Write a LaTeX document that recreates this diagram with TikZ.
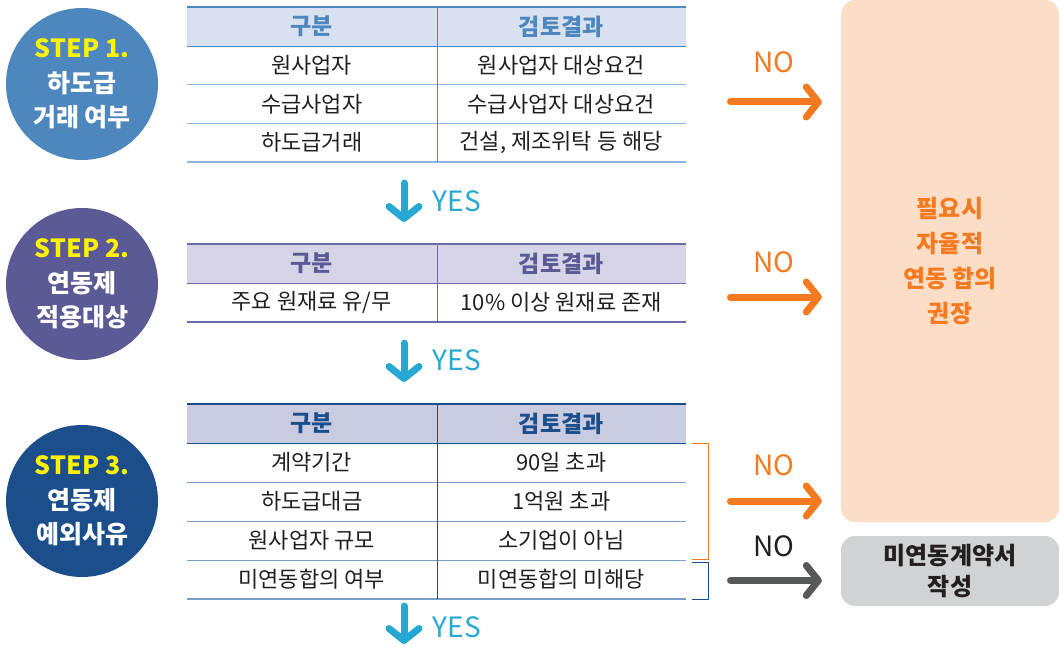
\documentclass[tikz,border=0pt]{standalone}
\usepackage{fontspec}
\setmainfont{Noto Sans CJK KR}
\usetikzlibrary{arrows.meta}

\definecolor{stepone}{HTML}{4E86BE}
\definecolor{steptwo}{HTML}{5B5A95}
\definecolor{stepthree}{HTML}{1B4E8B}
\definecolor{stepyel}{HTML}{FFF200}
\definecolor{headone}{HTML}{D7E1EF}
\definecolor{linetwo}{HTML}{6B6AAB}
\definecolor{headtwo}{HTML}{D6D4E6}
\definecolor{headthree}{HTML}{C9CCE1}
\definecolor{rowone}{HTML}{8DB4E2}
\definecolor{rowthree}{HTML}{7B9CC9}
\definecolor{txtdark}{HTML}{231F20}
\definecolor{orng}{HTML}{F37A21}
\definecolor{orngbox}{HTML}{FCDEC6}
\definecolor{graybox}{HTML}{D1D2D4}
\definecolor{grayarr}{HTML}{58595B}
\definecolor{cyanb}{HTML}{27A8D3}

\newcommand\steplabel[1]{{\fontsize{25}{28}\selectfont\color{stepyel}#1}}

\begin{document}
\begin{tikzpicture}[x=1pt, y=-1pt,
    stepcirc/.style={circle, minimum size=152pt, inner sep=0pt, text=white, align=center, font=\fontsize{25}{34}\selectfont\bfseries},
    cell/.style={minimum width=249.5pt, minimum height=38.75pt, inner sep=0pt, text=txtdark, font=\fontsize{22}{24}\selectfont},
    head/.style={cell, font=\fontsize{23}{24}\selectfont\bfseries},
    noarrow/.style={draw=orng, line width=7pt, line cap=round, -{Straight Barb[round, length=12pt, width=30pt]}, shorten >=19pt},
    yesarrow/.style={draw=cyanb, line width=7pt, line cap=round, -{Straight Barb[round, length=12pt, width=30pt]}},
    nolabel/.style={font=\fontsize{28}{30}\selectfont, text=orng},
    yeslabel/.style={font=\fontsize{28}{30}\selectfont, text=cyanb}]

    \useasboundingbox (0,0) rectangle (1059,647);

    % step circles
    \node[stepcirc, fill=stepone] (s1) at (82,84) {\steplabel{STEP 1.}\\[1pt]하도급\\거래 여부};
    \node[stepcirc, fill=steptwo] (s2) at (82,284) {\steplabel{STEP 2.}\\[1pt]연동제\\적용대상};
    \node[stepcirc, fill=stepthree] (s3) at (82,501) {\steplabel{STEP 3.}\\[1pt]연동제\\예외사유};

    % table 1
    \node[head, fill=headone, text=stepone] (t1a0) at (311.75,26.4) {구분};
    \node[head, fill=headone, text=stepone] (t1b0) at (561.25,26.4) {검토결과};
    \node[cell] (t1a1) at (311.75,65.1) {원사업자};
    \node[cell] (t1b1) at (561.25,65.1) {원사업자 대상요건};
    \node[cell] (t1a2) at (311.75,103.9) {수급사업자};
    \node[cell] (t1b2) at (561.25,103.9) {수급사업자 대상요건};
    \node[cell] (t1a3) at (311.75,142.6) {하도급거래};
    \node[cell] (t1b3) at (561.25,142.6) {건설, 제조위탁 등 해당};

    \draw[stepone, line width=1.5pt] (t1a0.north west) -- (t1b0.north east);
    \draw[stepone] (t1a0.south west) -- (t1b0.south east);
    \draw[rowone] (t1a1.south west) -- (t1b1.south east);
    \draw[rowone] (t1a2.south west) -- (t1b2.south east);
    \draw[rowone, line width=1.5pt] (t1a3.south west) -- (t1b3.south east);
    \draw[stepone] (t1a0.north east) -- (t1a3.south east);

    % table 2
    \node[head, fill=headtwo, text=steptwo] (t2a0) at (311.75,263.5) {구분};
    \node[head, fill=headtwo, text=steptwo] (t2b0) at (561.25,263.5) {검토결과};
    \node[cell] (t2a1) at (311.75,302.5) {주요 원재료 유/무};
    \node[cell] (t2b1) at (561.25,302.5) {10\% 이상 원재료 존재};

    \draw[linetwo, line width=1.5pt] (t2a0.north west) -- (t2b0.north east);
    \draw[linetwo] (t2a0.south west) -- (t2b0.south east);
    \draw[linetwo, line width=1.5pt] (t2a1.south west) -- (t2b1.south east);
    \draw[linetwo] (t2a0.north east) -- (t2a1.south east);

    % table 3
    \node[head, fill=headthree, text=stepthree] (t3a0) at (311.75,423.5) {구분};
    \node[head, fill=headthree, text=stepthree] (t3b0) at (561.25,423.5) {검토결과};
    \node[cell] (t3a1) at (311.75,462.5) {계약기간};
    \node[cell] (t3b1) at (561.25,462.5) {90일 초과};
    \node[cell] (t3a2) at (311.75,501.5) {하도급대금};
    \node[cell] (t3b2) at (561.25,501.5) {1억원 초과};
    \node[cell] (t3a3) at (311.75,540.5) {원사업자 규모};
    \node[cell] (t3b3) at (561.25,540.5) {소기업이 아님};
    \node[cell] (t3a4) at (311.75,579.5) {미연동합의 여부};
    \node[cell] (t3b4) at (561.25,579.5) {미연동합의 미해당};

    \draw[stepthree, line width=1.5pt] (t3a0.north west) -- (t3b0.north east);
    \draw[stepthree] (t3a0.south west) -- (t3b0.south east);
    \draw[rowthree] (t3a1.south west) -- (t3b1.south east);
    \draw[rowthree] (t3a2.south west) -- (t3b2.south east);
    \draw[rowthree] (t3a3.south west) -- (t3b3.south east);
    \draw[rowthree, line width=1.5pt] (t3a4.south west) -- (t3b4.south east);
    \draw[stepthree] (t3a0.north east) -- (t3a4.south east);

    % brackets
    \draw[orng, line width=1pt] (692,443) -- (708,443) -- coordinate (br3) (708,559) -- (692,559);
    \draw[stepthree, line width=1pt] (692,562) -- (708,562) -- coordinate (br4) (708,599) -- (692,599);

    % result boxes
    \node[fill=orngbox, rounded corners=14pt, minimum width=218pt, minimum height=522pt, inner sep=0pt,
        align=center, text=orng, font=\fontsize{24}{35}\selectfont\bfseries] (rec) at (950,261)
        {필요시\\자율적\\연동 합의\\권장};
    \node[fill=graybox, rounded corners=14pt, minimum width=218pt, minimum height=70pt, inner sep=0pt,
        align=center, text=txtdark, font=\fontsize{24}{31}\selectfont\bfseries] (draft) at (950,571)
        {미연동계약서\\작성};

    % yes arrows
    \coordinate (y1a) at (404,183);
    \coordinate (y1b) at (404,222);
    \coordinate (y2a) at (404,343);
    \coordinate (y2b) at (404,382);
    \coordinate (y3a) at (404,606);
    \coordinate (y3b) at (404,644);
    \draw[yesarrow] (y1a) -- (y1b);
    \draw[yesarrow] (y2a) -- (y2b);
    \draw[yesarrow] (y3a) -- (y3b);
    \node[yeslabel] (yes1) at (457,201) {YES};
    \node[yeslabel] (yes2) at (457,360) {YES};
    \node[yeslabel] (yes3) at (457,627) {YES};

    % no arrows
    \coordinate (n1) at (730.5,102);
    \coordinate (n2) at (730.5,297);
    \draw[noarrow] (n1) -- (rec.west |- n1);
    \draw[noarrow] (n2) -- (rec.west |- n2);
    \draw[noarrow, shorten <=22.5pt] (br3) -- (rec.west |- br3);
    \draw[noarrow, draw=grayarr, shorten <=22.5pt] (br4) -- (draft.west |- br4);
    \node[nolabel] (no1) at (774,62) {NO};
    \node[nolabel] (no2) at (774,262) {NO};
    \node[nolabel] (no3) at (774,465) {NO};
    \node[nolabel, text=txtdark] (no4) at (774,546) {NO};
\end{tikzpicture}
\end{document}
